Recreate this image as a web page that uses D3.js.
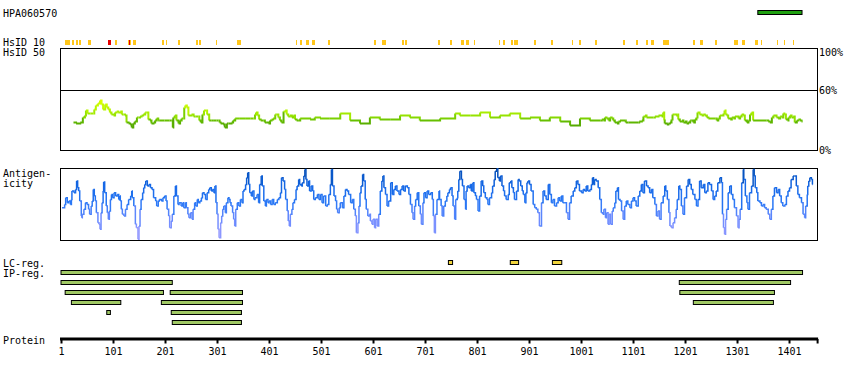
<!DOCTYPE html>
<html><head><meta charset="utf-8">
<script src="https://cdn.jsdelivr.net/npm/d3@7"></script>
<style>
body{margin:0;background:#fff}
svg{display:block}
text{font-family:"DejaVu Sans Mono","Liberation Mono",monospace;font-size:10px;fill:#000}
</style>
</head><body>
<svg id="chart" width="850" height="380"></svg>
<script>
// ---------------- data ----------------
const proteinLength = 1455;
const antibodyId = "HPA060570";
const antigenRegion = [1341, 1426];
const axisTicks = [1, 101, 201, 301, 401, 501, 601, 701, 801, 901, 1001, 1101, 1201, 1301, 1401];
const hsid50Labels = [["100%", 100], ["60%", 60], ["0%", 0]];

// HsID 10 identity stretches (residue ranges)
const hsid10Yellow = [[9,17],[23,26],[30,33],[36,39],[54,58],[106,109],[130,135],[139,145],[195,198],[204,205],[227,229],[261,264],[266,270],[299,300],[339,342],[344,346],[454,455],[461,463],[473,477],[485,488],[515,518],[603,606],[618,625],[657,660],[663,665],[726,729],[749,752],[770,775],[780,785],[795,796],[843,844],[851,854],[866,870],[872,879],[911,914],[943,946],[984,985],[997,1000],[1029,1031],[1082,1086],[1107,1111],[1126,1129],[1136,1140],[1159,1170],[1216,1220],[1230,1235],[1259,1262],[1295,1302],[1312,1316],[1336,1341],[1347,1349],[1378,1379],[1391,1393],[1409,1410]];
const hsid10Red = [[91,96],[132,133]];

// HsID 50 profile: [residue, percent identity]
const hsid50 = [[25,28],[30,27],[38,28],[43,33],[47,35],[49,40],[52,37],[58,37],[63,37],[65,41],[68,45],[72,47],[76,50],[79,46],[82,41],[86,46],[89,43],[92,41],[95,38],[98,36],[102,35],[105,38],[108,39],[111,38],[115,39],[118,36],[121,36],[124,35],[127,28],[131,27],[134,26],[137,23],[140,27],[143,29],[147,33],[150,33],[153,34],[156,35],[159,36],[163,38],[166,38],[169,31],[172,30],[175,27],[179,28],[182,30],[185,32],[188,30],[191,30],[200,30],[210,30],[214,30],[216,23],[217,33],[220,35],[223,30],[227,27],[230,30],[233,32],[236,32],[238,43],[240,45],[243,43],[246,35],[249,35],[252,36],[256,34],[260,34],[265,34],[267,30],[270,28],[273,36],[276,40],[280,40],[282,36],[286,30],[290,30],[295,30],[300,30],[304,30],[306,28],[308,27],[313,26],[316,23],[320,27],[323,27],[326,27],[329,28],[332,30],[336,32],[345,32],[355,32],[365,32],[371,32],[374,36],[376,38],[379,35],[382,31],[385,30],[390,30],[393,28],[397,28],[400,27],[403,30],[406,31],[409,32],[413,36],[416,36],[419,33],[422,30],[425,28],[429,39],[432,40],[435,36],[438,34],[441,35],[445,33],[448,35],[451,31],[454,30],[457,30],[461,32],
[480,31],[489,33],[499,32],[518,32],[538,37],[557,30],[576,27],[595,33],[614,31],[634,31],[653,35],[672,33],[691,30],[730,32],[759,37],[768,35],[788,35],[807,38],[826,33],[845,35],[864,37],[884,32],[903,33],[922,30],[941,33],[961,29],[980,25],[999,32],[1018,30],
[1038,30],[1041,31],[1044,30],[1047,33],[1050,32],[1054,30],[1057,33],[1060,32],[1063,30],[1066,28],[1070,27],[1073,29],[1076,30],[1086,30],[1087,28],[1092,28],[1111,28],[1113,29],[1118,30],[1121,34],[1124,35],[1127,33],[1140,33],[1143,34],[1150,35],[1156,34],[1158,36],[1159,38],[1161,30],[1162,27],[1166,26],[1169,27],[1172,28],[1175,31],[1177,36],[1180,36],[1184,35],[1186,36],[1188,31],[1191,29],[1195,30],[1198,28],[1201,29],[1204,27],[1207,28],[1211,30],[1214,30],[1217,28],[1220,31],[1223,33],[1225,38],[1229,36],[1233,35],[1236,36],[1239,35],[1243,33],[1246,32],[1259,32],[1262,30],[1265,32],[1268,35],[1275,37],[1277,40],[1279,36],[1281,35],[1284,32],[1288,31],[1291,33],[1294,32],[1297,34],[1304,32],[1307,34],[1310,36],[1313,35],[1316,30],[1320,28],[1323,30],[1326,36],[1329,38],[1332,30],[1358,30],[1361,29],[1364,28],[1368,33],[1371,35],[1374,35],[1377,33],[1380,32],[1384,34],[1387,33],[1390,37],[1392,36],[1395,31],[1398,30],[1400,33],[1403,35],[1406,33],[1409,34],[1412,28],[1416,30],[1419,31],[1422,30],[1425,29],[1427,29]];

// Antigenicity profile: [residue, score (arbitrary units, 0..212)]
const antigenicity = [[3,95],[8,105],[10,125],[13,110],[16,115],[19,105],[21,120],[22,145],[26,140],[29,150],[31,175],[33,155],[35,145],[37,115],[40,70],[41,65],[42,75],[45,90],[48,110],[51,105],[54,90],[56,75],[59,100],[61,115],[63,150],[65,130],[67,115],[69,80],[72,50],[74,45],[76,30],[78,80],[80,110],[82,145],[83,172],[85,140],[88,100],[90,80],[92,60],[94,85],[96,120],[98,135],[100,125],[103,140],[106,130],[109,135],[112,120],[114,130],[115,115],[117,90],[119,75],[122,70],[125,90],[128,105],[131,120],[135,130],[137,145],[138,125],[141,100],[144,45],[146,35],[149,0],[151,40],[153,90],[155,120],[158,140],[160,155],[162,165],[164,175],[167,160],[170,165],[173,155],[176,150],[179,125],[183,115],[185,100],[188,115],[190,120],[194,115],[197,125],[200,130],[203,115],[205,90],[208,70],[210,35],[213,55],[215,75],[218,130],[221,160],[223,130],[226,105],[228,110],[232,100],[235,110],[237,95],[240,110],[242,95],[245,75],[247,65],[250,80],[253,60],[255,90],[258,110],[260,100],[263,120],[265,110],[268,115],[271,125],[273,140],[276,135],[279,120],[282,140],[285,150],[287,155],[290,145],[292,150],[295,140],[297,160],[299,110],[301,75],[303,30],[305,5],[308,50],[310,70],[312,90],[314,100],[317,80],[319,110],[322,125],[324,120],[326,110],[328,100],[331,80],[333,60],[335,40],[337,90],[340,110],[343,100],[346,120],[349,110],[351,145],[353,150],[356,165],[358,185],[360,200],[362,165],[364,140],[367,130],[369,145],[372,120],[374,125],[378,135],[381,110],[383,165],[386,190],[388,160],[391,115],[394,100],[396,120],[399,110],[401,115],[404,105],[407,120],[410,105],[413,110],[417,120],[420,125],[423,140],[425,185],[428,175],[431,150],[433,120],[436,85],[438,55],[440,40],[442,75],[445,90],[447,110],[450,120],[453,150],[455,160],[458,180],[460,165],[463,160],[465,170],[468,190],[470,210],[472,180],[474,160],[477,175],[479,145],[482,160],[485,145],[487,120],[490,125],[494,135],[497,120],[500,135],[503,110],[506,130],[510,100],[513,105],[516,135],[519,165],[521,210],[523,160],[526,130],[529,115],[531,90],[533,80],[536,95],[538,110],[542,95],[545,130],[548,150],[551,145],[554,135],[558,110],[561,120],[564,90],[567,70],[569,20],[572,50],[574,100],[576,140],[578,160],[581,195],[583,175],[586,120],[588,90],[591,70],[594,75],[596,55],[599,45],[601,60],[604,35],[606,60],[609,40],[612,75],[615,145],[618,175],[620,190],[622,155],[625,135],[628,100],[631,115],[635,170],[638,135],[641,150],[644,160],[647,145],[651,135],[654,150],[657,160],[660,145],[663,160],[667,155],[670,135],[673,105],[676,80],[678,60],[681,100],[683,120],[686,140],[689,100],[692,75],[694,45],[697,110],[699,140],[702,125],[705,145],[708,135],[712,140],[715,120],[717,70],[719,20],[721,75],[724,120],[728,145],
[729,120],[732,100],[734,70],[737,100],[740,115],[743,130],[745,140],[748,150],[750,155],[753,130],[755,100],[758,60],[760,120],[763,125],[764,145],[766,180],[768,205],[771,180],[773,160],[776,120],[779,90],[780,145],[782,160],[785,155],[788,165],[790,145],[793,170],[795,140],[798,130],[800,120],[803,85],[806,130],[809,175],[812,160],[814,140],[817,125],[820,120],[822,105],[825,125],[829,140],[831,160],[834,180],[836,205],[839,212],[841,185],[844,175],[846,190],[849,160],[852,145],[854,130],[857,120],[861,135],[863,170],[866,175],[868,155],[871,140],[873,120],[877,145],[880,180],[882,175],[885,160],[888,145],[890,135],[893,110],[895,140],[897,170],[899,175],[902,165],[905,145],[909,105],[912,95],[915,90],[918,80],[921,40],[925,110],[928,145],[931,130],[934,120],[938,165],[941,135],[944,110],[947,120],[950,100],[954,110],[957,125],[960,115],[963,130],[966,110],[970,110],[973,80],[976,60],[979,110],[982,130],[986,145],[989,155],[992,175],[995,165],[998,145],[1002,140],[1005,150],[1008,145],[1011,160],[1014,145],[1018,150],[1021,165],[1023,185],[1025,165],[1027,180],[1030,175],[1034,155],[1037,120],[1040,80],[1043,75],[1045,90],[1048,65],[1050,80],[1053,45],[1055,75],[1058,45],[1061,85],[1063,95],[1066,110],[1068,145],[1071,155],[1073,120],[1076,115],[1079,85],[1082,60],[1085,100],[1088,115],[1091,105],[1095,95],[1098,115],[1101,125],[1104,115],[1107,100],[1111,130],[1114,145],[1117,165],[1120,140],[1123,175],[1127,160],[1130,155],[1133,140],[1136,150],[1139,125],[1143,105],[1146,70],[1149,85],[1152,60],[1155,110],[1159,130],[1162,160],[1164,145],[1167,120],[1170,80],[1172,40],[1175,35],[1178,50],[1181,65],[1184,90],[1186,120],[1189,160],[1191,150],[1194,100],[1197,75],[1200,125],[1204,160],[1207,180],[1210,165],[1213,150],[1216,135],[1220,120],[1223,100],[1226,120],[1229,175],[1232,155],[1236,165],[1239,140],[1242,145],[1245,170],[1248,165],[1252,145],[1255,120],[1258,130],[1261,145],[1264,170],[1268,185],[1271,170],[1273,75],[1275,35],[1277,15],[1279,60],[1281,90],[1284,140],[1287,160],[1290,135],[1293,120],[1296,95],[1300,70],[1303,35],[1305,60],[1307,90],[1310,170],[1313,210],[1314,180],[1317,130],[1320,110],[1322,90],[1325,140],[1329,160],[1332,210],[1334,190],[1336,155],[1339,140],[1341,115],[1345,110],[1348,100],[1351,105],[1354,95],[1357,90],[1361,75],[1364,60],[1367,90],[1370,130],[1373,155],[1377,140],[1380,150],[1383,130],[1386,110],[1389,100],[1393,105],[1396,130],[1399,145],[1402,155],[1405,180],[1409,190],[1412,190],[1415,160],[1418,135],[1421,125],[1425,110],[1428,75],[1431,65],[1433,100],[1436,135],[1437,160],[1439,175],[1441,185],[1444,180],[1446,165],[1447,165]];

// Low complexity regions
const lcRegions = [[746,754],[865,881],[946,964]];
// Interpro regions, one list per row
const ipRows = [
  [[1,1427]],
  [[1,215],[1190,1404]],
  [[9,198],[211,350],[1191,1373]],
  [[21,116],[194,350],[1217,1371]],
  [[89,96],[213,348]],
  [[215,348]]
];

// ---------------- drawing ----------------
const svg = d3.select("#chart");
const x = d3.scaleLinear().domain([1, proteinLength]).range([61, 817.1]);
const left = 60.5, right = 817.5;
const resW = x(2) - x(1);

function label(t, px, py, anchor) {
  svg.append("text").attr("x", px).attr("y", py).attr("text-anchor", anchor || "start").text(t);
}

// title + antigen
label(antibodyId, 3, 16.5);
svg.append("rect")
  .attr("x", x(antigenRegion[0])).attr("y", 10.5)
  .attr("width", x(antigenRegion[1]) - x(antigenRegion[0])).attr("height", 4)
  .attr("fill", "#1fa010").attr("stroke", "#000").attr("stroke-width", 1);

// HsID 10
label("HsID 10", 3, 45.5);
const idG = svg.append("g").attr("shape-rendering", "crispEdges");
idG.selectAll("rect.y").data(hsid10Yellow).join("rect")
  .attr("x", d => x(d[0]) - resW / 2).attr("y", 40)
  .attr("width", d => Math.max(1, x(d[1]) - x(d[0]) + resW)).attr("height", 5)
  .attr("fill", "#ffc61a");
idG.selectAll("rect.r").data(hsid10Red).join("rect")
  .attr("x", d => x(d[0]) - resW / 2).attr("y", 40)
  .attr("width", d => Math.max(1, x(d[1]) - x(d[0]) + resW)).attr("height", 5)
  .attr("fill", "#e60000");

// HsID 50 panel
label("HsID 50", 3, 55.5);
const yH = d3.scaleLinear().domain([0, 100]).range([150.5, 50.5]);
svg.append("rect").attr("x", left).attr("y", 48.5).attr("width", right - left).attr("height", 102)
  .attr("fill", "none").attr("stroke", "#000").attr("stroke-width", 1);
svg.append("line").attr("x1", left).attr("x2", right).attr("y1", yH(60)).attr("y2", yH(60))
  .attr("stroke", "#000").attr("stroke-width", 1);
svg.append("text").attr("x", 819).attr("y", 56).text(hsid50Labels[0][0]);
svg.append("text").attr("x", 819).attr("y", yH(hsid50Labels[1][1]) + 3.5).text(hsid50Labels[1][0]);
svg.append("text").attr("x", 819).attr("y", yH(hsid50Labels[2][1]) + 3).text(hsid50Labels[2][0]);

const hsColor = d3.scaleLinear().domain([26, 30, 34, 40, 50])
  .range(["#56aa00", "#66bf00", "#8fe000", "#b6f400", "#d8ff00"]).clamp(true);
const stepLine = d3.line().curve(d3.curveStepAfter);
const hsG = svg.append("g");
for (let i = 0; i < hsid50.length - 1; i++) {
  const a = hsid50[i], b = hsid50[i + 1];
  hsG.append("path")
    .attr("d", stepLine([[x(a[0]), yH(a[1])], [x(b[0]), yH(b[1])]]))
    .attr("fill", "none").attr("stroke", hsColor(a[1])).attr("stroke-width", 2);
}

// Antigenicity panel
label("Antigen-", 3, 176.5);
label("icity", 3, 186.5);
svg.append("rect").attr("x", left).attr("y", 168.5).attr("width", right - left).attr("height", 72)
  .attr("fill", "none").attr("stroke", "#000").attr("stroke-width", 1);
const yA = d3.scaleLinear().domain([0, 212]).range([239.3, 168.8]);
const agColor = d3.scaleLinear().domain([0, 60, 110, 160, 212])
  .range(["#a4a0ff", "#6f8cff", "#2a78f6", "#1467e6", "#0048ac"]).clamp(true);
const agG = svg.append("g");
for (let i = 0; i < antigenicity.length - 1; i++) {
  const a = antigenicity[i], b = antigenicity[i + 1];
  agG.append("path")
    .attr("d", stepLine([[x(a[0]), yA(a[1])], [x(b[0]), yA(b[1])]]))
    .attr("fill", "none").attr("stroke", agColor((a[1] + b[1]) / 2)).attr("stroke-width", 1.5);
}

// LC regions
label("LC-reg.", 3, 266.5);
svg.append("g").selectAll("rect").data(lcRegions).join("rect")
  .attr("x", d => x(d[0])).attr("y", 260.5)
  .attr("width", d => x(d[1]) - x(d[0])).attr("height", 4)
  .attr("fill", "#f0d43c").attr("stroke", "#000").attr("stroke-width", 1);

// IP regions
label("IP-reg.", 3, 276.5);
const ipG = svg.append("g");
ipRows.forEach((row, ri) => {
  ipG.selectAll(null).data(row).join("rect")
    .attr("x", d => x(d[0])).attr("y", 270.5 + ri * 10)
    .attr("width", d => x(d[1]) - x(d[0])).attr("height", 4)
    .attr("fill", "#a0c864").attr("stroke", "#000").attr("stroke-width", 1);
});

// Protein axis
label("Protein", 3, 343.5);
const axisG = svg.append("g").attr("transform", "translate(0,339)");
axisG.call(d3.axisBottom(x).tickValues(axisTicks.concat([proteinLength]))
  .tickFormat(d => axisTicks.includes(d) ? String(d) : "").tickSize(4.5).tickSizeOuter(0));
axisG.select(".domain").attr("stroke", "#000").attr("stroke-width", 3).attr("d", `M${x(1) - 1},0H${x(proteinLength) + 1}`);
axisG.selectAll(".tick line").attr("stroke", "#000").attr("stroke-width", 2);
axisG.selectAll(".tick text").attr("y", 15.5).attr("dy", 0)
  .attr("font-family", "DejaVu Sans Mono, monospace").attr("font-size", 10).attr("fill", "#000");
</script>
</body></html>
